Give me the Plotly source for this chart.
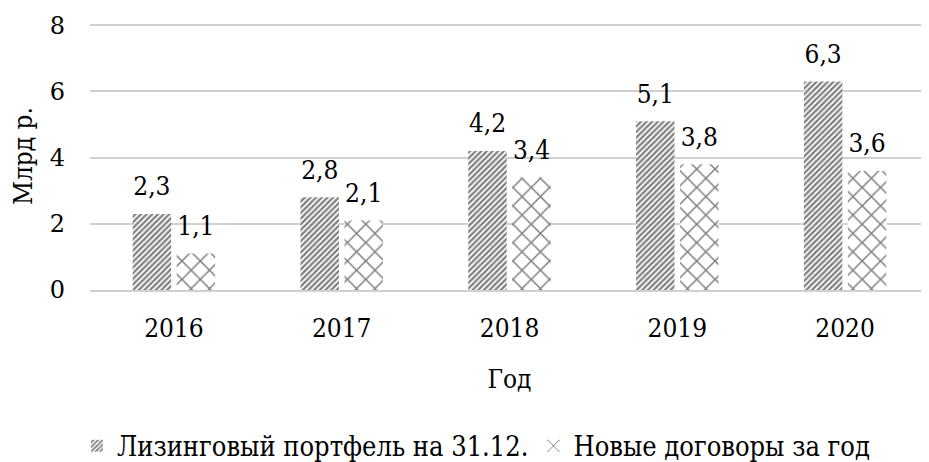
import plotly.graph_objects as go

years = ["2016", "2017", "2018", "2019", "2020"]
portfolio = [2.3, 2.8, 4.2, 5.1, 6.3]
new_contracts = [1.1, 2.1, 3.4, 3.8, 3.6]
series_names = ["Лизинговый портфель на 31.12.", "Новые договоры за год"]

def fmt(v):
    return f"{v:.1f}".replace(".", ",")

FONT = "DejaVu Serif Condensed"
FONT2 = "DejaVu Serif"
GAP = 0.476

fig = go.Figure()
fig.add_trace(go.Bar(
    x=years, y=portfolio, name=series_names[0], offsetgroup="a",
    marker=dict(color="white", line=dict(width=0),
                pattern=dict(shape="/", fgcolor="black", bgcolor="white", size=4, solidity=0.55)),
))
fig.add_trace(go.Bar(
    x=years, y=new_contracts, name=series_names[1], offsetgroup="b",
    marker=dict(color="white", line=dict(width=0),
                pattern=dict(shape="x", fgcolor="black", bgcolor="white", size=13, solidity=0.22)),
))
# value labels, lifted a little above the bar tops (as in the original)
for vals, grp in ((portfolio, "a"), (new_contracts, "b")):
    fig.add_trace(go.Scatter(
        x=years, y=vals, mode="markers+text", offsetgroup=grp, showlegend=False,
        text=[fmt(v) for v in vals], textposition="top center",
        textfont=dict(size=26, color="black", family=FONT),
        marker=dict(size=18, opacity=0), hoverinfo="skip", cliponaxis=False,
    ))

fig.update_layout(
    width=921, height=454,
    margin=dict(l=82, r=0, t=14, b=172, autoexpand=False),
    paper_bgcolor="white", plot_bgcolor="white",
    font=dict(family=FONT, size=26, color="black"),
    barmode="group", bargap=GAP, bargroupgap=0.125,
    scattermode="group", scattergap=GAP,
    legend=dict(orientation="h", x=0.46, xanchor="center", y=-0.583, yanchor="middle",
                font=dict(size=27, family=FONT), itemwidth=30, traceorder="normal"),
    xaxis=dict(title=dict(text="Год", font=dict(size=26, family=FONT), standoff=28),
               showline=True, linecolor="#d0d0d0", linewidth=1.5, automargin=False,
               tickfont=dict(size=26, family=FONT), ticks="", ticklabelstandoff=14),
    yaxis=dict(title=dict(text="Млрд р.", font=dict(size=26, family=FONT), standoff=12),
               range=[0, 8.1], tickvals=[0, 2, 4, 6, 8], showgrid=True, gridcolor="#d0d0d0",
               gridwidth=1.5, automargin=False,
               zeroline=False, tickfont=dict(size=24, family=FONT2), ticklabelstandoff=24),
)

fig.write_html("out.html")
